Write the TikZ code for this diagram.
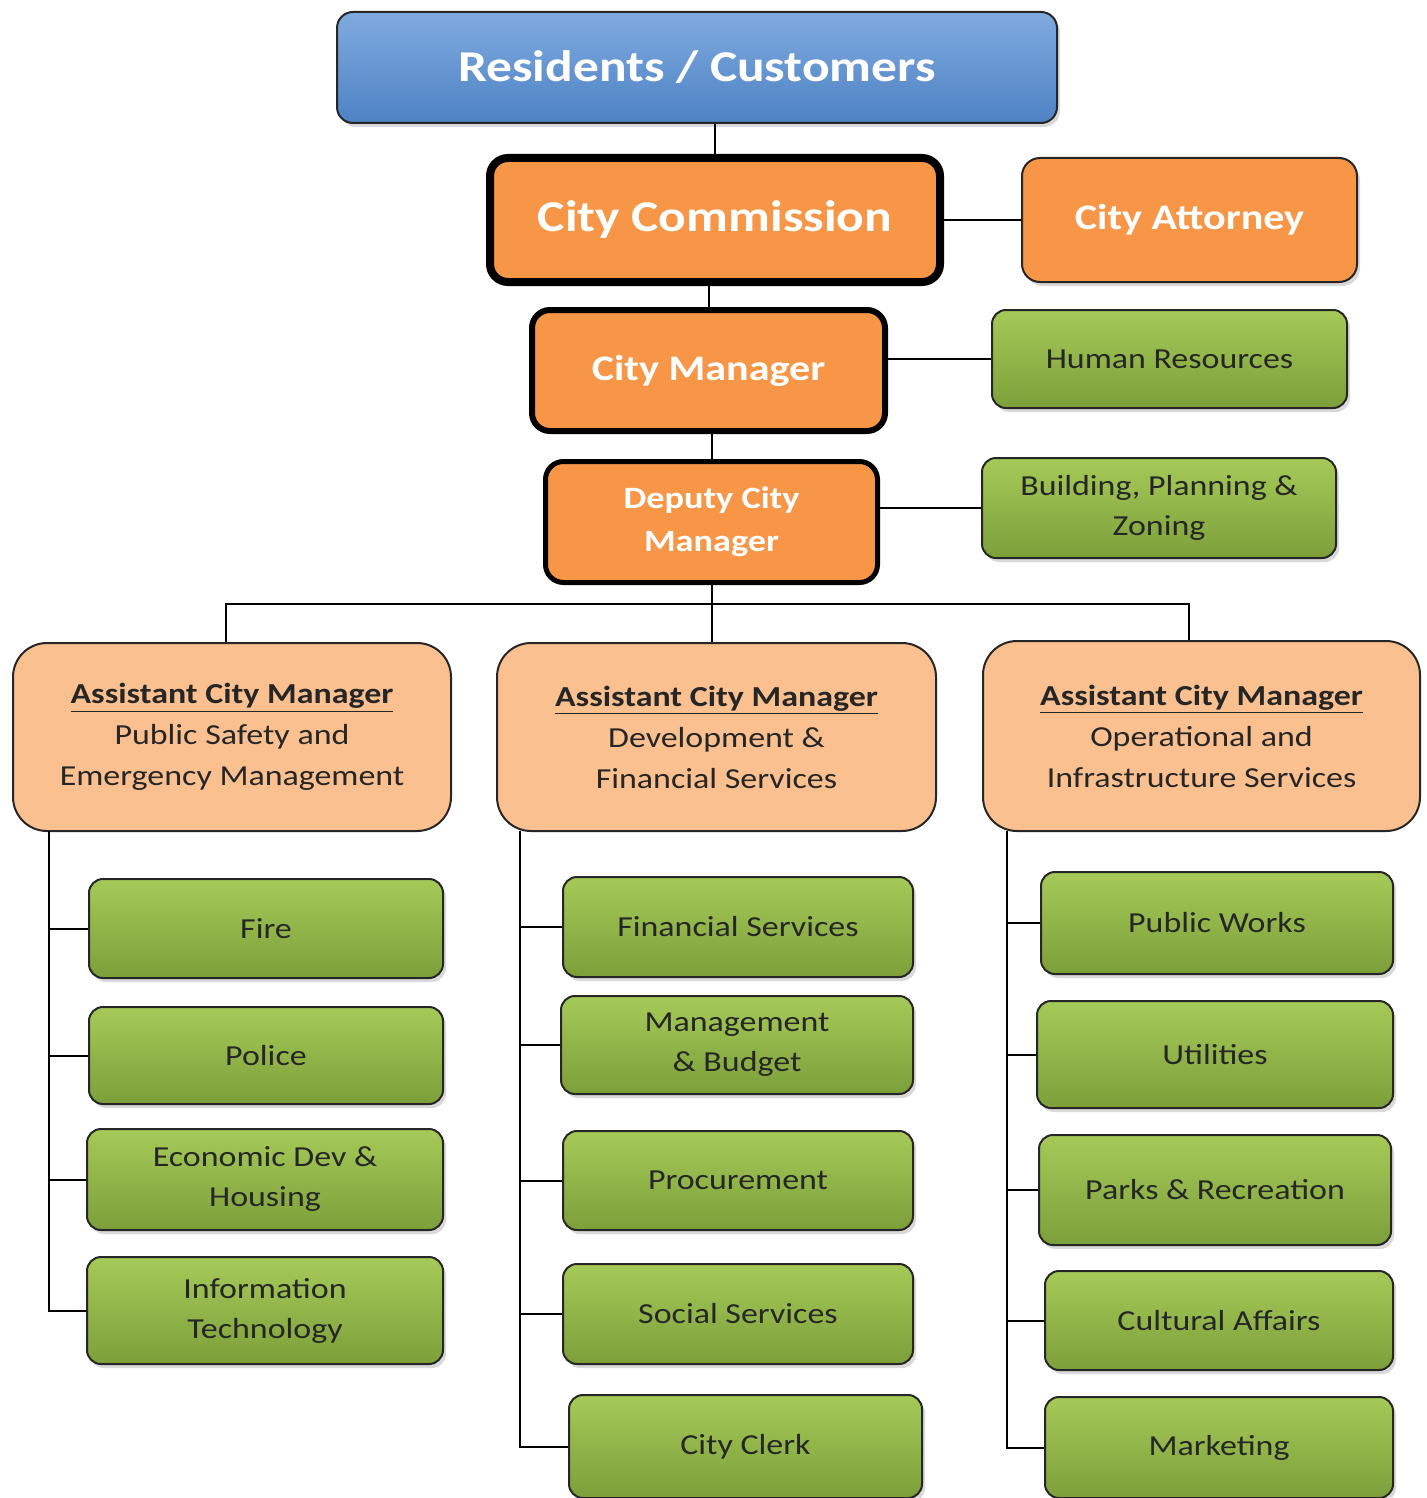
\documentclass[tikz,border=0pt]{standalone}
\usepackage{fontspec}
\setmainfont{Carlito}[FakeStretch=1.17]
\usetikzlibrary{shadows}
\definecolor{resblue}{HTML}{558ED5}
\definecolor{orgfill}{HTML}{F79646}
\definecolor{acmfill}{HTML}{FAC090}
\definecolor{grntop}{HTML}{A6CA58}
\definecolor{grnbot}{HTML}{7C9F3A}
\begin{document}
\begin{tikzpicture}[x=.5pt,y=-.5pt,
    box/.style={draw=black!85,line width=1pt,rounded corners=7pt,inner sep=0pt,
      align=center,text=black!85},
    wh/.style 2 args={minimum width=#1*.5pt,minimum height=#2*.5pt},
    shd/.style={drop shadow={opacity=.3,shadow xshift=1.5pt,shadow yshift=-2pt}},
    grn/.style={box,shd,top color=grntop,bottom color=grnbot,
      font=\fontsize{14.5}{20}\selectfont},
    org/.style={box,fill=orgfill,text=white,rounded corners=9pt},
    thk/.style={org,draw=black,line width=#1},
    acm/.style={box,fill=acmfill,rounded corners=17pt,
      font=\fontsize{14.5}{20.5}\selectfont},
    conn/.style={line width=1pt}]
  \useasboundingbox (0,0) rectangle (1427,1498);

  % top of the chart
  \node[box,shd,wh={720}{111},rounded corners=8pt,top color=resblue!75!white,
    bottom color=resblue!92!black,text=white,
    font=\fontsize{22}{26}\selectfont\bfseries] (res) at (697,67.5) {Residents / Customers};
  \node[thk=4pt,wh={450}{124},font=\fontsize{22}{26}\selectfont\bfseries]
    (com) at (715,220) {City Commission};
  \node[org,shd,wh={335}{124},font=\fontsize{18}{22}\selectfont\bfseries]
    (att) at (1189.5,220) {City Attorney};
  \node[thk=3pt,wh={353}{121},font=\fontsize{18}{22}\selectfont\bfseries]
    (man) at (708.5,370.5) {City Manager};
  \node[grn,wh={355}{98}] (hr) at (1169.5,359) {Human Resources};
  \node[thk=2.5pt,wh={332}{121},font=\fontsize{15.5}{21.5}\selectfont\bfseries]
    (dep) at (711.5,522) {Deputy City\\Manager};
  \node[grn,wh={354}{100}] (bpz) at (1159,508) {Building, Planning \&\\Zoning};

  % assistant city managers
  \node[acm,wh={438}{188}] (acml) at (232,737)
    {\textbf{\underline{Assistant City Manager}}\\Public Safety and\\Emergency Management};
  \node[acm,wh={439}{188}] (acmm) at (716.5,737)
    {\textbf{\underline{Assistant City Manager}}\\Development \&\\Financial Services};
  \node[acm,wh={437}{190}] (acmr) at (1201.5,736)
    {\textbf{\underline{Assistant City Manager}}\\Operational and\\Infrastructure Services};

  % departments
  \node[grn,wh={354}{99}] (fire) at (266,928.5) {Fire};
  \node[grn,wh={354}{97}] (pol) at (266,1055.5) {Police};
  \node[grn,wh={356}{101}] (eco) at (265,1179.5) {Economic Dev \&\\Housing};
  \node[grn,wh={356}{107}] (it) at (265,1310.5) {Information\\Technology};

  \node[grn,wh={350}{100}] (fin) at (738,927) {Financial Services};
  \node[grn,wh={352}{98}] (mb) at (737,1045) {Management\\\& Budget};
  \node[grn,wh={350}{99}] (proc) at (738,1180.5) {Procurement};
  \node[grn,wh={350}{100}] (soc) at (738,1314) {Social Services};
  \node[grn,wh={353}{103}] (clerk) at (745.5,1446.5) {City Clerk};

  \node[grn,wh={352}{102}] (pw) at (1217,923) {Public Works};
  \node[grn,wh={356}{107}] (util) at (1215,1054.5) {Utilities};
  \node[grn,wh={352}{110}] (parks) at (1215,1190) {Parks \& Recreation};
  \node[grn,wh={348}{99}] (cult) at (1219,1320.5) {Cultural Affairs};
  \node[grn,wh={348}{101}] (mkt) at (1219,1447.5) {Marketing};

  % connectors
  \draw[conn] (com.north) -- (com.north |- res.south);
  \draw[conn] (man.north |- com.south) -- (man.north);
  \draw[conn] (com.east) -- (att.west);
  \draw[conn] (hr.west -| man.east) -- (hr.west);
  \draw[conn] (dep.north |- man.south) -- (dep.north);
  \draw[conn] (bpz.west -| dep.east) -- (bpz.west);
  \coordinate (bus) at (712,604);
  \draw[conn] (dep.south) -- (dep.south |- acmm.north);
  \draw[conn] ([xshift=-3pt]acml.north) |- (bus) -| ([xshift=-6.5pt]acmr.north);

  \coordinate (lsp) at (49,831);
  \coordinate (msp) at (520,831);
  \coordinate (rsp) at (1007,831);
  \foreach \n in {fire,pol,eco,it} \draw[conn] (lsp) |- (\n.west);
  \foreach \n in {fin,mb,proc,soc,clerk} \draw[conn] (msp) |- (\n.west);
  \foreach \n in {pw,util,parks,cult,mkt} \draw[conn] (rsp) |- (\n.west);
\end{tikzpicture}
\end{document}
